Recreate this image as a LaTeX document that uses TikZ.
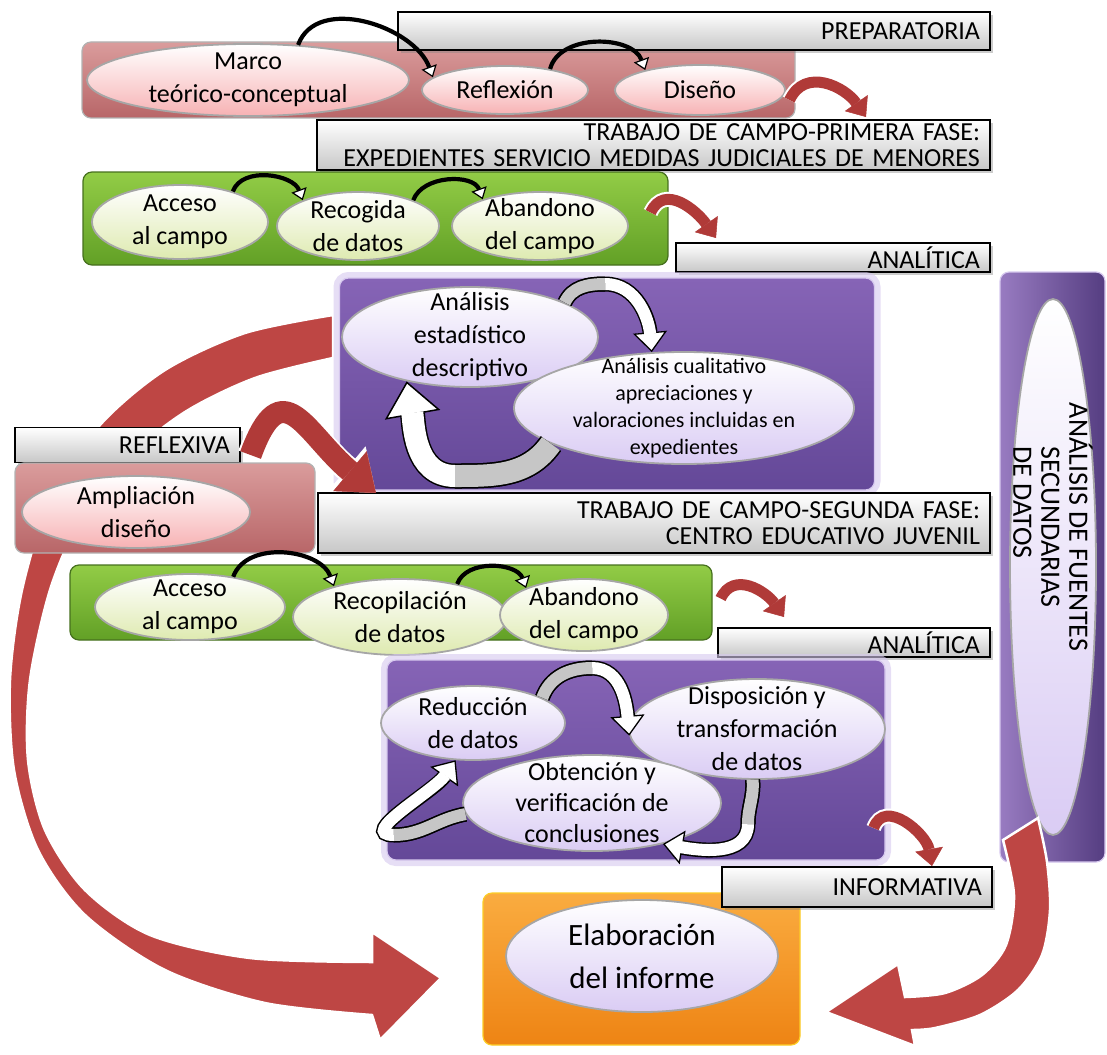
\documentclass[tikz,border=0pt]{standalone}
\usepackage{fontspec}
\setmainfont{Carlito}
\usetikzlibrary{arrows.meta, shapes.geometric, shadows, calc, positioning}

\definecolor{pinkTop}{RGB}{218,156,156}
\definecolor{pinkBot}{RGB}{184,102,104}
\definecolor{pinkEll}{RGB}{247,178,180}
\definecolor{greenTop}{RGB}{146,204,70}
\definecolor{greenBot}{RGB}{98,160,38}
\definecolor{greenLine}{RGB}{70,112,30}
\definecolor{greenEll}{RGB}{222,234,176}
\definecolor{purpleTop}{RGB}{134,100,182}
\definecolor{purpleBot}{RGB}{100,72,152}
\definecolor{purpleGlow}{RGB}{214,200,238}
\definecolor{purpleEll}{RGB}{218,204,244}
\definecolor{orangeTop}{RGB}{250,172,64}
\definecolor{orangeBot}{RGB}{238,132,20}
\definecolor{arrowRed}{RGB}{176,58,56}
\definecolor{bigRed}{RGB}{190,70,68}

\newcommand\ellfont{\fontsize{26}{33}\selectfont}
\newcommand\smallellfont{\fontsize{22}{27}\selectfont}
\newcommand\bigellfont{\fontsize{31}{43}\selectfont}
\newcommand\barfont{\fontsize{26}{26}\selectfont}
\newcommand\vertfont{\fontsize{28}{28}\selectfont}

\begin{document}
\begin{tikzpicture}[x=1pt, y=1pt,
    bar/.style={draw=black, line width=1.2pt, top color=white, bottom color=black!22,
      inner xsep=10pt, inner ysep=0pt, align=right, font=\barfont,
      drop shadow={opacity=0.4, shadow xshift=3pt, shadow yshift=-3pt}},
    box/.style={rounded corners=9pt, line width=1.2pt, inner sep=0pt},
    pinkbox/.style={box, draw=gray!60, top color=pinkTop, bottom color=pinkBot},
    greenbox/.style={box, draw=greenLine, top color=greenTop, bottom color=greenBot},
    purplebox/.style={box, draw=purpleGlow, top color=purpleTop, bottom color=purpleBot,
      preaction={draw=purpleGlow, line width=12pt, opacity=0.6}},
    purplevbox/.style={box, draw=purpleGlow, left color=purpleTop!85!white, right color=purpleBot!85!black},
    orangebox/.style={box, draw=orangeTop!60!yellow, top color=orangeTop, bottom color=orangeBot},
    ell/.style={ellipse, draw=gray!70, line width=1.8pt, inner sep=0pt},
    pinkell/.style={ell, top color=white, bottom color=pinkEll},
    greenell/.style={ell, top color=white, bottom color=greenEll},
    purpleell/.style={ell, top color=white, bottom color=purpleEll},
    lbl/.style={align=center, font=\ellfont},
    curvearrow/.style={draw=black, line width=4.2pt,
      -{Triangle[length=11pt, width=16pt, fill=white, line width=1.2pt]}},
    bandM/.style={draw=black, line width=15pt,
      -{Triangle[length=20pt, width=34pt, fill=white, line width=1.3pt]},
      postaction={draw=white, line width=12pt, shorten >=18pt, -}},
    tailM/.style={draw=black, line width=15pt, postaction={draw=gray!45, line width=12pt}},
    bandL/.style={draw=black, line width=25pt,
      -{Triangle[length=34pt, width=56pt, fill=white, line width=1.5pt]},
      postaction={draw=white, line width=22pt, shorten >=32pt, -}},
    tailL/.style={draw=black, line width=25pt, postaction={draw=gray!45, line width=22pt}},
    redarc/.style={draw=arrowRed, line width=11pt,
      -{Triangle[length=17pt, width=28pt, fill=arrowRed, line width=0.5pt]},
      preaction={draw=white, line width=15pt, -{Triangle[length=20pt, width=34pt, fill=white, line width=0.5pt]}}},
    redwide/.style={draw=arrowRed, line width=22pt,
      -{Triangle[length=34pt, width=52pt, fill=arrowRed, line width=0.5pt]},
      preaction={draw=white, line width=26pt, -{Triangle[length=38pt, width=58pt, fill=white, line width=0.5pt]}}}
  ]
  \useasboundingbox (0,0) rectangle (1107,-1054);

  % Big red arrow on the left (behind everything)
  \filldraw[fill=bigRed, draw=white, line width=2.5pt]
    plot[smooth] coordinates {(333,-315) (245,-333) (165,-370) (100,-425) (50,-500) (22,-590) (10,-680)
      (14,-770) (38,-850) (85,-915) (165,-970) (265,-1003) (372,-1015)}
    -- (380,-1040) -- (441,-978) -- (372,-932) --
    plot[smooth] coordinates {(372,-962) (250,-958) (150,-935) (85,-890) (45,-830) (28,-760) (30,-680)
      (50,-590) (80,-520) (125,-460) (185,-412) (255,-378) (333,-358)}
    -- cycle;

  % Preparatoria
  \node[pinkbox, minimum width=713pt, minimum height=76pt] (pinkA) at (438.5,-80) {};
  \node[bar, minimum height=38pt, text width=572pt] (prep) at (694,-31) {PREPARATORIA};
  \node[pinkell, minimum width=322pt, minimum height=72pt,
    label={[lbl]center:{Marco\\teórico-conceptual}}] (marco) at (248,-80) {};
  \node[pinkell, minimum width=166pt, minimum height=48pt,
    label={[lbl]center:Reflexión}] (reflexion) at (505,-90) {};
  \node[pinkell, minimum width=170pt, minimum height=50pt,
    label={[lbl]center:Diseño}] (diseno) at (700,-90) {};
  \draw[curvearrow] (marco.35) to[out=70, in=110] (reflexion.170);
  \draw[curvearrow] (reflexion.25) to[out=75, in=110] (diseno.160);

  % Trabajo de campo, primera fase
  \node[bar, minimum height=50pt, text width=653pt] (campo1) at (653.5,-145)
    {TRABAJO DE CAMPO-PRIMERA FASE:\\EXPEDIENTES SERVICIO MEDIDAS JUDICIALES DE MENORES};
  \node[greenbox, minimum width=585pt, minimum height=93pt] (greenA) at (375.5,-218.5) {};
  \node[greenell, minimum width=176pt, minimum height=74pt,
    label={[lbl]center:{Acceso\\al campo}}] (acceso1) at (180,-222) {};
  \node[greenell, minimum width=162pt, minimum height=68pt,
    label={[lbl]center:{Recogida\\de datos}}] (recogida) at (358,-226) {};
  \node[greenell, minimum width=176pt, minimum height=68pt,
    label={[lbl]center:{Abandono\\del campo}}] (abandono1) at (540,-226) {};
  \draw[curvearrow] (acceso1.30) to[out=70, in=110] (recogida.155);
  \draw[curvearrow] (recogida.25) to[out=70, in=110] (abandono1.155);

  % Analitica 1
  \node[bar, minimum height=29pt, text width=294pt] (anal1) at (833,-257.5) {ANALÍTICA};
  \node[purplebox, minimum width=535pt, minimum height=212pt] (purpleA) at (607,-384) {};
  \node[purpleell, minimum width=256pt, minimum height=100pt,
    label={[lbl]center:{Análisis\\estadístico\\descriptivo}}] (estad) at (470,-337) {};
  \node[purpleell, minimum width=340pt, minimum height=112pt,
    label={[lbl, font=\smallellfont]center:{Análisis cualitativo\\apreciaciones y\\valoraciones incluidas en\\expedientes}}] (cualit) at (684,-408) {};
  \coordinate (topA) at (605,-284);
  \coordinate (botA) at (455,-476);
  \draw[bandM] (estad.20) to[out=65, in=180] (topA) to[out=0, in=95] (cualit.120);
  \draw[tailM] (estad.20) to[out=65, in=180] (topA);
  \draw[bandL] (cualit.195) to[out=235, in=0] (botA) to[out=180, in=-80] (estad.215);
  \draw[tailL] (cualit.195) to[out=235, in=0] (botA);

  % Reflexiva
  \node[bar, minimum height=35pt, text width=205pt] (refl) at (127.5,-445) {REFLEXIVA};
  \node[pinkbox, minimum width=300pt, minimum height=90pt] (pinkB) at (165,-508) {};
  \node[pinkell, minimum width=228pt, minimum height=72pt,
    label={[lbl]center:{Ampliación\\diseño}}] (amplia) at (136,-512) {};

  % Trabajo de campo, segunda fase
  \node[bar, minimum height=60pt, text width=652pt] (campo2) at (654,-523)
    {TRABAJO DE CAMPO-SEGUNDA FASE:\\CENTRO EDUCATIVO JUVENIL};
  \node[greenbox, minimum width=642pt, minimum height=75pt] (greenB) at (391,-602.5) {};
  \node[greenell, minimum width=190pt, minimum height=66pt,
    label={[lbl]center:{Acceso\\al campo}}] (acceso2) at (190,-607) {};
  \node[greenell, minimum width=214pt, minimum height=76pt,
    label={[lbl]center:{Recopilación\\de datos}}] (recopil) at (400,-617) {};
  \node[greenell, minimum width=168pt, minimum height=72pt,
    label={[lbl]center:{Abandono\\del campo}}] (abandono2) at (584,-615) {};
  \draw[curvearrow] (acceso2.35) to[out=70, in=110] (recopil.155);
  \draw[curvearrow] (recopil.30) to[out=70, in=110] (abandono2.155);

  % Analitica 2
  \node[bar, minimum height=29pt, text width=252pt] (anal2) at (854,-642.5) {ANALÍTICA};
  \node[purplebox, minimum width=498pt, minimum height=200pt] (purpleB) at (636,-760) {};
  \node[purpleell, minimum width=184pt, minimum height=74pt,
    label={[lbl]center:{Reducción\\de datos}}] (reduc) at (473,-723) {};
  \node[purpleell, minimum width=256pt, minimum height=100pt,
    label={[lbl]center:{Disposición y\\transformación\\de datos}}] (dispos) at (757,-729) {};
  \node[purpleell, minimum width=258pt, minimum height=96pt,
    label={[lbl, font=\fontsize{26}{31}\selectfont]center:{Obtención y\\verificación de\\conclusiones}}] (obten) at (592,-803) {};
  \coordinate (topB) at (592,-668);
  \coordinate (midB) at (748,-824);
  \coordinate (lowB) at (394,-835);
  \draw[bandM] (reduc.20) to[out=70, in=180] (topB) to[out=0, in=95] (dispos.183);
  \draw[tailM] (reduc.20) to[out=70, in=180] (topB);
  \draw[bandM] (dispos.265) to[out=-85, in=90] (midB) to[out=-90, in=-10] (obten.-30);
  \draw[tailM] (dispos.265) to[out=-85, in=90] (midB);
  \draw[bandM] (obten.185) to[out=190, in=0] (lowB) to[out=180, in=235] (reduc.245);
  \draw[tailM] (obten.185) to[out=190, in=0] (lowB);

  % Informativa
  \node[orangebox, minimum width=317pt, minimum height=152pt] (orange) at (641.5,-969) {};
  \node[purpleell, minimum width=272pt, minimum height=112pt,
    label={[lbl, font=\bigellfont]center:{Elaboración\\del informe}}] (elab) at (642,-956) {};
  \node[bar, minimum height=40pt, text width=250pt] (info) at (857,-887) {INFORMATIVA};

  % Analisis de fuentes secundarias
  \node[purplevbox, minimum width=105pt, minimum height=590pt] (vbox) at (1052.5,-567) {};
  \node[purpleell, minimum width=86pt, minimum height=536pt] (fuentes) at (1053,-567) {};
  \node[lbl, font=\vertfont, rotate=-90] (fuentes-t) at ([yshift=40pt]fuentes.center)
    {ANÁLISIS DE FUENTES\\SECUNDARIAS\\{\rlap{DE DATOS}\phantom{SECUNDARIAS}}};

  % Big red arrow on the right
  \filldraw[fill=bigRed, draw=white, line width=2.5pt]
    plot[smooth] coordinates {(1038,-818) (1047,-862) (1050,-910) (1042,-955) (1018,-990) (980,-1015)
      (935,-1028) (912,-1030)}
    -- (915,-1046) -- (826,-1012) -- (898,-964) --
    plot[smooth] coordinates {(905,-997) (945,-993) (982,-975) (1006,-945) (1014,-895) (1003,-840)}
    -- cycle;

  % Red phase arrows
  \coordinate (r1b) at (866,-117);
  \coordinate (r2b) at (716,-238);
  \coordinate (r3b) at (376,-493);
  \coordinate (r4b) at (784,-617);
  \coordinate (r5b) at (932,-866);
  \draw[redarc] ([xshift=-6pt, yshift=-20pt]pinkA.east) to[out=65, in=125, looseness=1.2] (r1b);
  \draw[redarc] ([xshift=-18pt, yshift=6pt]greenA.east) to[out=65, in=125, looseness=1.2] (r2b);
  \draw[redwide] ([xshift=10pt, yshift=-10pt]refl.east) to[out=70, in=140, looseness=1.8] (r3b);
  \draw[redarc] ([xshift=8pt, yshift=4pt]greenB.east) to[out=65, in=125, looseness=1.2] (r4b);
  \draw[redarc] ([xshift=-12pt, yshift=-68pt]purpleB.east) to[out=70, in=100, looseness=1.2] (r5b);
\end{tikzpicture}
\end{document}
